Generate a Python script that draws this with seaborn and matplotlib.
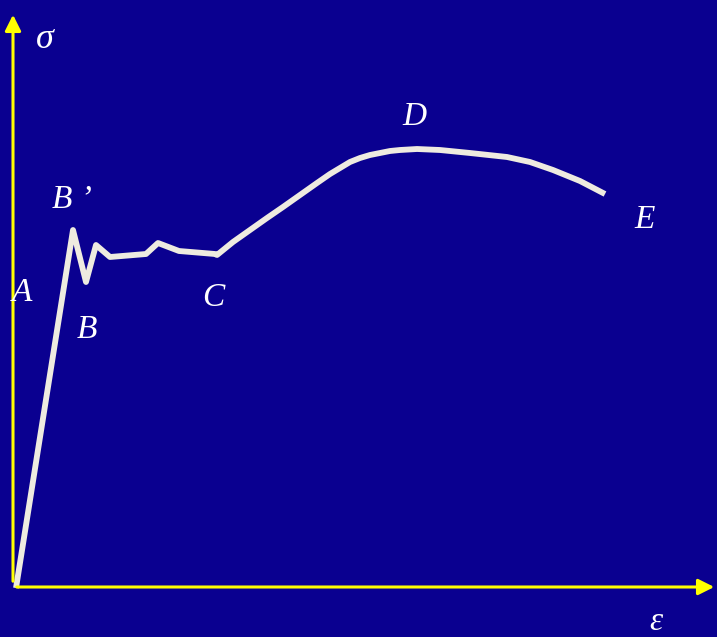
import matplotlib
matplotlib.use("Agg")
import matplotlib.pyplot as plt
import pandas as pd
import seaborn as sns

# stress-strain curve (canvas units, origin bottom-left)
strain = [16, 73, 86, 96, 110, 146, 158, 179, 215, 217, 233, 250, 267, 283,
          300, 317, 330, 340, 350, 360, 370, 380, 390, 400, 417, 440, 470,
          507, 530, 553, 580, 605]
stress = [49, 407, 355, 392, 380, 383, 394, 386, 383, 382, 395, 407, 419, 430,
          442, 454, 463, 469, 475, 479, 482, 484, 486, 487, 488, 487, 484,
          480, 475, 467, 456, 443]

# point labels
label_text = ["B \u2019", "A", "B", "C", "D", "E"]
label_x = [72, 22, 87, 213, 414, 645]
label_y = [437, 344, 307, 339, 520, 417]

BG = "#0a0090"
CURVE = "#eeebe0"
AXIS = "#ffff00"

sns.set_theme(style="white")
plt.rcParams["font.family"] = ["Liberation Serif", "DejaVu Serif"]

fig = plt.figure(figsize=(7.17, 6.37), dpi=100, facecolor=BG)
ax = fig.add_axes([0, 0, 1, 1])
ax.set_facecolor(BG)
ax.set_xlim(0, 717)
ax.set_ylim(0, 637)
ax.axis("off")

# axes arrows
ax.annotate("", xy=(13, 625), xytext=(13, 53),
            arrowprops=dict(arrowstyle="-|>", color=AXIS, lw=2.2, mutation_scale=24))
ax.annotate("", xy=(717, 50), xytext=(14, 50),
            arrowprops=dict(arrowstyle="-|>", color=AXIS, lw=2.2, mutation_scale=24))

df = pd.DataFrame({"strain": strain, "stress": stress})
sns.lineplot(data=df, x="strain", y="stress", sort=False, color=CURVE,
             lw=4.2, ax=ax, solid_capstyle="butt", solid_joinstyle="round")

for t, x, y in zip(label_text, label_x, label_y):
    ax.text(x, y, t, color="white", fontsize=24, style="italic",
            ha="center", va="center")

ax.text(45, 598, "\u03c3", color="white", fontsize=26, style="italic",
        ha="center", va="center")
ax.text(656, 15, "\u03b5", color="white", fontsize=24, style="italic",
        ha="center", va="center")

fig.savefig("out.png", dpi=100, facecolor=BG)
